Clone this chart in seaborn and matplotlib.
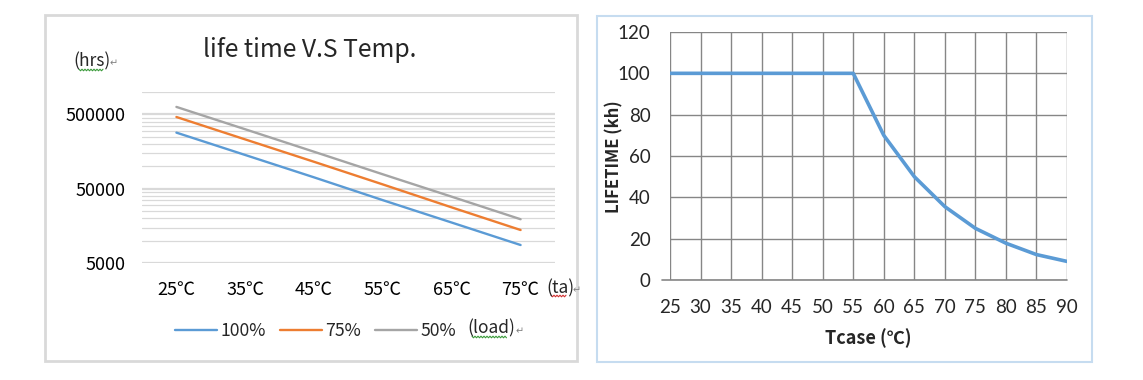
import numpy as np
import pandas as pd
import matplotlib
matplotlib.use("Agg")
import matplotlib.pyplot as plt
import matplotlib.ticker as mticker
from matplotlib.patches import Rectangle
from matplotlib.lines import Line2D
import seaborn as sns

# left chart: lifetime (hrs) vs ambient temperature, per load
temps = [25, 35, 45, 55, 65, 75]
temp_labels = ["25℃", "35℃", "45℃", "55℃", "65℃", "75℃"]
loads = ["100%", "75%", "50%"]
life_100 = [284000, 142000, 71000, 35000, 17500, 8730]
life_75 = [461000, 230000, 115000, 57000, 28000, 13900]
life_50 = [630000, 315000, 157000, 78000, 39000, 19400]
load_colors = ["#5b9bd5", "#ed7d31", "#a5a5a5"]
left_yticks = [5000, 50000, 500000]

# right chart: lifetime (kh) vs case temperature
tcase = [25, 30, 35, 40, 45, 50, 55, 60, 65, 70, 75, 80, 85, 90]
life_kh = [100, 100, 100, 100, 100, 100, 100, 70, 50, 35.5, 25, 17.8, 12.3, 9]

sns.set_style("white")
plt.rcParams["font.family"] = ["Noto Sans CJK SC", "DejaVu Sans"]

W, H = 1143, 380
fig = plt.figure(figsize=(W / 100, H / 100), dpi=100)

def fx(px):
    return px / W

def fy(py):
    return 1 - py / H

def squiggle(x0, x1, y, color):
    # word-processor style wavy underline
    xs = np.arange(x0, x1 + 0.1, 1.5)
    ys = y + np.where(np.arange(len(xs)) % 2 == 0, -0.8, 0.8)
    fig.add_artist(Line2D(fx(xs), fy(ys), transform=fig.transFigure,
                          color=color, lw=0.8))

def para_mark(x, y):
    fig.text(fx(x), fy(y), "↵", fontsize=7, color="#808080", ha="left",
             va="center", family=["DejaVu Sans"])

# panel borders
fig.add_artist(Rectangle((fx(45), fy(361)), fx(577 - 45), (361 - 15) / H,
                         transform=fig.transFigure, fill=False,
                         edgecolor="#d9d9d9", lw=2))
fig.add_artist(Rectangle((fx(597), fy(362)), fx(1092 - 597), (362 - 16) / H,
                         transform=fig.transFigure, fill=False,
                         edgecolor="#c6dcf0", lw=1.5))

# ---------- left chart ----------
df = pd.DataFrame({
    "temp": temps * 3,
    "life": life_100 + life_75 + life_50,
    "load": [l for l in loads for _ in temps],
})
ax1 = fig.add_axes([fx(142), fy(263), fx(555 - 142), (263 - 92) / H])
sns.lineplot(data=df, x="temp", y="life", hue="load", hue_order=loads,
             palette=load_colors, lw=1.7, ax=ax1)
ax1.set_yscale("log")
ax1.set_ylim(5000, 1000000)
ax1.set_xlim(20, 80)
ax1.yaxis.set_major_locator(mticker.FixedLocator(left_yticks))
ax1.yaxis.set_major_formatter(mticker.FixedFormatter([str(v) for v in left_yticks]))
ax1.yaxis.set_minor_locator(mticker.LogLocator(base=10, subs=np.arange(1, 5, 0.5)))
ax1.yaxis.set_minor_formatter(mticker.NullFormatter())
ax1.set_xticks(temps)
ax1.set_xticklabels(temp_labels)
ax1.grid(True, which="major", axis="y", color="#d9d9d9", lw=1.6)
ax1.grid(True, which="minor", axis="y", color="#d9d9d9", lw=0.9)
ax1.grid(False, axis="x")
for s in ax1.spines.values():
    s.set_visible(False)
ax1.tick_params(axis="both", which="both", length=0, labelsize=13, colors="black")
ax1.tick_params(axis="y", pad=12)
ax1.tick_params(axis="x", pad=13)
ax1.set_xlabel("")
ax1.set_ylabel("")

fig.text(fx(310), fy(50), "life time V.S Temp.", fontsize=17.8, ha="center", va="center")
fig.text(fx(73), fy(61), "(hrs)", fontsize=12.5, ha="left", va="center")
para_mark(110, 63)
squiggle(79, 103, 70, "#3a9a3a")
fig.text(fx(546), fy(288), "(ta)", fontsize=12.5, ha="left", va="center")
para_mark(573, 290)
squiggle(551, 567, 296, "#d03030")

handles, labels = ax1.get_legend_handles_labels()
ax1.legend(handles, labels, loc="center left", ncol=3, frameon=False,
           bbox_to_anchor=(fx(175), fy(331)), bbox_transform=fig.transFigure,
           fontsize=12.7, handlelength=2.4, handletextpad=0.2, columnspacing=0.75,
           borderpad=0, borderaxespad=0)
fig.text(fx(467), fy(328), "(load)", fontsize=12.5, ha="left", va="center")
para_mark(516, 331)
squiggle(472, 507, 337, "#3a9a3a")

# ---------- right chart ----------
ax2 = fig.add_axes([fx(670), fy(280), fx(1067 - 670), (280 - 32) / H])
sns.lineplot(x=tcase, y=life_kh, color="#5b9bd5", lw=2.6, ax=ax2)
ax2.set_xlim(25, 90)
ax2.set_ylim(0, 120)
ax2.set_xticks(tcase)
ax2.set_yticks(np.arange(0, 121, 20))
ax2.grid(True, color="#868686", lw=1)
for s in ax2.spines.values():
    s.set_visible(False)
ax2.set_axisbelow(True)
ax2.axhline(0, xmin=-8 / 397, xmax=1, color="#868686", lw=1.2, clip_on=False, zorder=1)
ax2.tick_params(axis="y", length=8, color="#868686", width=1, pad=6,
                labelsize=13.5, direction="out")
ax2.tick_params(axis="x", length=0, pad=14, labelsize=13.5)
for lab in ax2.get_xticklabels() + ax2.get_yticklabels():
    lab.set_family(["Lato", "DejaVu Sans"])
ax2.set_xlabel("")
ax2.set_ylabel("")
fig.text(fx(868), fy(338), "Tcase (℃)", fontsize=13, fontweight="bold",
         ha="center", va="center", family=["Noto Sans CJK SC", "DejaVu Sans"])
fig.text(fx(614), fy(157), "LIFETIME (kh)", fontsize=12, fontweight="bold",
         ha="center", va="center", rotation=90,
         family=["Noto Sans CJK SC", "DejaVu Sans"])

fig.savefig("out.png", dpi=100, facecolor="white")
